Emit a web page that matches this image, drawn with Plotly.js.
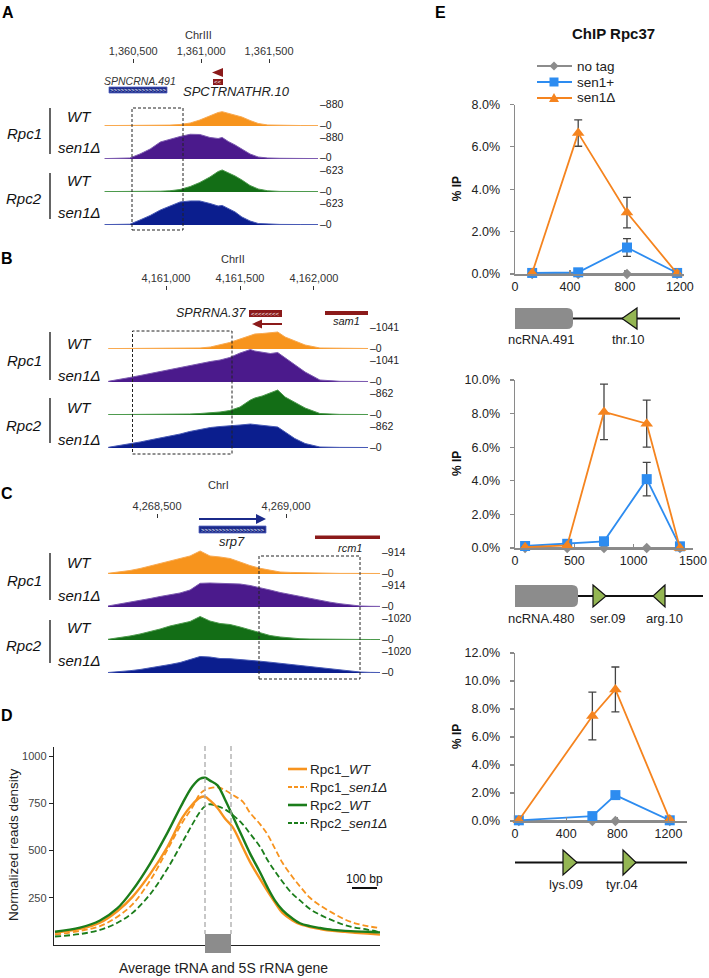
<!DOCTYPE html>
<html><head><meta charset="utf-8">
<script src="https://cdn.plot.ly/plotly-3.0.1.min.js"></script>
<style>html,body{margin:0;padding:0;background:#fff}#chart{width:709px;height:978px}</style>
</head><body><div id="chart"></div>
<script>
// ================= DATA =================
// Panel A (ChrIII)
const ticksA = [1360500, 1361000, 1361500];
const scalesA = [880, 880, 623, 623];
const posA = [1360290,1360400,1360475,1360550,1360625,1360700,1360770,1360845,1360920,1360990,1361065,1361125,1361155,1361200,1361250,1361300,1361360,1361420,1361490,1361580,1361730,1361860];
const rpc1WT_A  = [11,11,11,13,16,19,24,40,80,160,280,360,382,334,280,240,147,67,27,16,13,11];
const rpc1Sen_A = [11,16,27,134,267,454,534,600,660,654,574,547,574,467,374,267,134,53,27,19,13,11];
const rpc2WT_A  = [8,8,8,9,11,15,23,47,104,180,284,387,416,369,302,227,123,57,23,11,9,8];
const rpc2Sen_A = [8,9,15,95,180,284,359,435,454,454,406,359,369,312,246,151,76,28,15,11,9,8];

// Panel B (ChrII)
const ticksB = [4161000, 4161500, 4162000];
const scalesB = [1041, 1041, 862, 862];
const posB = [4160610,4160690,4160755,4160825,4160890,4160960,4161025,4161095,4161160,4161230,4161300,4161365,4161430,4161500,4161570,4161600,4161650,4161705,4161755,4161805,4161870,4161940,4162040,4162175,4162365];
const rpc1WT_B  = [13,13,13,13,16,16,19,22,25,32,63,126,205,315,441,473,488,520,536,378,252,126,32,19,16];
const rpc1Sen_B = [22,79,142,205,268,331,394,457,520,598,646,693,772,914,1024,977,929,898,929,756,536,315,63,22,16];
const rpc2WT_B  = [10,10,10,10,13,13,16,21,26,39,52,78,117,209,392,444,496,574,653,470,326,183,39,16,13];
const rpc2Sen_B = [18,65,104,157,209,261,313,365,431,488,535,561,574,600,626,613,600,587,548,418,248,117,26,16,13];

// Panel C (ChrI)
const ticksC = [4268500, 4269000];
const scalesC = [914, 914, 1020, 1020];
const posC = [4268310,4268357,4268395,4268434,4268473,4268512,4268550,4268589,4268628,4268667,4268705,4268744,4268783,4268822,4268860,4268899,4268938,4268977,4269016,4269054,4269093,4269132,4269171,4269209,4269248,4269287,4269326,4269364];
const rpc1WT_C  = [19,55,97,152,222,291,360,416,499,637,499,471,429,332,235,158,97,55,44,36,28,22,19,17,17,14,14,14];
const rpc1Sen_C = [28,83,130,180,235,291,346,388,471,656,665,659,656,637,596,540,471,402,346,285,230,180,133,91,55,28,19,17];
const rpc2WT_C  = [22,68,124,185,256,340,433,494,572,726,587,510,479,402,309,216,139,93,62,40,31,25,22,19,19,15,15,15];
const rpc2Sen_C = [15,40,71,108,155,201,263,324,417,510,494,448,442,423,392,365,334,300,269,238,207,176,145,108,62,31,19,15];

// Panel D (metagene, bp relative to gene start)
const ticksD = [250, 500, 750, 1000];
const posD = [-600,-500,-420,-350,-290,-220,-150,-90,-50,-20,0,20,50,80,110,150,180,220,250,280,310,350,380,420,460,510,560,600,650,700];
const rpc1WT_D  = [65,85,118,180,255,375,520,675,745,780,785,765,725,670,625,520,440,350,285,225,170,130,110,95,85,75,70,65,60,55];
const rpc1Sen_D = [55,75,100,150,215,340,505,650,730,800,820,830,835,820,795,760,700,640,585,510,435,360,310,250,210,170,135,115,100,90];
const rpc2WT_D  = [70,92,130,195,290,430,595,750,840,880,885,870,845,770,685,570,485,385,305,235,185,140,115,100,90,80,75,72,70,67];
const rpc2Sen_D = [45,58,80,118,170,268,405,545,640,705,735,745,735,718,690,640,590,520,450,390,335,270,236,190,160,130,105,92,82,67];
const namesD = ['Rpc1_<i>WT</i>', 'Rpc1_<i>sen1Δ</i>', 'Rpc2_<i>WT</i>', 'Rpc2_<i>sen1Δ</i>'];

// Panel E (ChIP Rpc37, % IP)
const namesE = ['no tag', 'sen1+', 'sen1Δ'];
const xE1 = [125, 460, 815, 1180];
const noTag1 = [0, 0, 0, 0];
const sen1p1 = [0.05, 0.08, 1.25, 0.05];
const sen1pErr1 = [0, 0, 0.42, 0];
const sen1d1 = [0.05, 6.65, 2.9, 0.02];
const sen1dErr1 = [0, 0.62, 0.72, 0];
const ticksE1x = [0, 400, 800, 1200];
const ticksE1y = [0, 2, 4, 6, 8];

const xE2 = [85, 440, 750, 1110, 1390];
const noTag2 = [0, 0, 0, 0, 0];
const sen1p2 = [0.12, 0.25, 0.4, 4.1, 0.1];
const sen1pErr2 = [0, 0, 0, 1.0, 0];
const sen1d2 = [0.05, 0.15, 8.1, 7.4, 0.0];
const sen1dErr2 = [0, 0, 1.65, 1.4, 0];
const ticksE2x = [0, 500, 1000, 1500];
const ticksE2y = [0, 2, 4, 6, 8, 10];

const xE3 = [30, 605, 785, 1210];
const noTag3 = [0, 0, 0, 0];
const sen1p3 = [0.05, 0.35, 1.85, 0.05];
const sen1pErr3 = [0, 0, 0.25, 0];
const sen1d3 = [0.05, 7.5, 9.4, 0.1];
const sen1dErr3 = [0, 1.7, 1.6, 0];
const ticksE3x = [0, 400, 800, 1200];
const ticksE3y = [0, 2, 4, 6, 8, 10, 12];

// ================= HELPERS =================
const W = 709, H = 978;
const FONT = 'Arial, "Liberation Sans", Helvetica, sans-serif';
const fx = x => x / W, fy = y => 1 - y / H;
const ax = n => (n === 1 ? '' : String(n));
const data = [], shapes = [], annotations = [];

function T(text, x, y, o = {}) {
  const a = {xref:'paper', yref:'paper', x:fx(x), y:fy(y), text:text, showarrow:false,
    xanchor:o.xa || 'center', yanchor:'middle', borderpad:0,
    font:{family:FONT, size:o.size || 11, color:o.color || '#222'}};
  if (o.angle !== undefined) a.textangle = o.angle;
  annotations.push(a);
}
function R(x0, y0, x1, y1, fill, line) {
  shapes.push({type:'rect', xref:'paper', yref:'paper', x0:fx(x0), x1:fx(x1), y0:fy(y1), y1:fy(y0),
    fillcolor:fill || 'rgba(0,0,0,0)', line: line || {width:0}, layer:'above'});
}
function L(x0, y0, x1, y1, color, width, dash) {
  shapes.push({type:'line', xref:'paper', yref:'paper', x0:fx(x0), x1:fx(x1), y0:fy(y0), y1:fy(y1),
    line:{color:color, width:width, dash:dash || 'solid'}, layer:'above'});
}
function P(cmds, fill, line) {
  let s = '';
  cmds.forEach(c => {
    if (c[0] === 'Z') { s += 'Z'; return; }
    s += c[0];
    const pts = [];
    for (let i = 1; i < c.length; i += 2) pts.push(fx(c[i]) + ',' + fy(c[i + 1]));
    s += pts.join(' ') + ' ';
  });
  shapes.push({type:'path', xref:'paper', yref:'paper', path:s, fillcolor:fill, line: line || {width:0}, layer:'above'});
}

// ================= TRACK PANELS A, B, C =================
const trackFill = ['#F7941D', '#4B1A8C', '#136E16', '#0B1E8E'];
const trackLine = ['#F9A94F', '#7C5AB0', '#4C9A4C', '#4759B5'];
const panels = [
  {pos:posA, series:[rpc1WT_A, rpc1Sen_A, rpc2WT_A, rpc2Sen_A], scales:scalesA, ticks:ticksA,
   xr:[104, 318], range:[1360285, 1361860], base:[126, 159, 192, 225], tickY:63, labX:319},
  {pos:posB, series:[rpc1WT_B, rpc1Sen_B, rpc2WT_B, rpc2Sen_B], scales:scalesB, ticks:ticksB,
   xr:[108, 368], range:[4160608, 4162365], base:[349, 382, 415, 448], tickY:290, labX:369},
  {pos:posC, series:[rpc1WT_C, rpc1Sen_C, rpc2WT_C, rpc2Sen_C], scales:scalesC, ticks:ticksC,
   xr:[108, 380], range:[4268310, 4269364], base:[574, 607, 640, 673], tickY:518, labX:381}
];
const layout = {
  width:W, height:H, margin:{l:0, r:0, t:0, b:0}, paper_bgcolor:'#fff', plot_bgcolor:'rgba(0,0,0,0)',
  showlegend:false, hovermode:false, font:{family:FONT, color:'#222'}
};
panels.forEach((p, pi) => {
  const xn = pi + 1;
  layout['xaxis' + ax(xn)] = {domain:[fx(p.xr[0]), fx(p.xr[1])], range:p.range, anchor:'free',
    position:fy(p.tickY), side:'top', tickmode:'array', tickvals:p.ticks, tickformat:',d',
    ticks:'outside', ticklen:4, tickwidth:1, tickcolor:'#333', showline:false, showgrid:false,
    zeroline:false, tickfont:{family:FONT, size:11, color:'#333'}, fixedrange:true};
  p.series.forEach((vals, i) => {
    const yn = pi * 4 + i + 1;
    layout['yaxis' + ax(yn)] = {domain:[fy(p.base[i]), fy(p.base[i] - 33)], range:[0, p.scales[i]],
      anchor:'x' + ax(xn), visible:false, fixedrange:true};
    data.push({type:'scatter', mode:'lines', x:p.pos, y:vals, xaxis:'x' + ax(xn), yaxis:'y' + ax(yn),
      fill:'tozeroy', fillcolor:trackFill[i], line:{color:trackLine[i], width:1}, hoverinfo:'skip'});
    T('–' + p.scales[i], p.labX, p.base[i] - 22, {xa:'left', size:10.5});
    T('–0', p.labX, p.base[i] - 1.5, {xa:'left', size:10.5});
  });
});

// track labels (WT y, Rpc y, sen y, line y0, line y1) per group
const labelGroups = [
  ['Rpc1', 117, 133, 148, 108, 154], ['Rpc2', 181, 199, 213, 173, 219],
  ['Rpc1', 343, 360, 375, 332, 380], ['Rpc2', 407, 425, 440, 398, 443],
  ['Rpc1', 562, 580, 595, 553, 600], ['Rpc2', 627, 645, 660, 620, 663]
];
labelGroups.forEach(g => {
  T('<i>' + g[0] + '</i>', 24, g[2], {size:15, color:'#111'});
  T('<i>WT</i>', 79, g[1], {size:15, color:'#111'});
  T('<i>sen1Δ</i>', 79, g[3], {size:15, color:'#111'});
  L(50, g[4], 50, g[5], '#111', 1.3);
});

// panel letters
T('<b>A</b>', 8, 12, {size:16, color:'#000'});
T('<b>B</b>', 7, 259, {size:16, color:'#000'});
T('<b>C</b>', 7, 493, {size:16, color:'#000'});
T('<b>D</b>', 7, 715, {size:16, color:'#000'});
T('<b>E</b>', 440, 13, {size:16, color:'#000'});

// Panel A gene features
const RED = '#8B1A1A', NAVY = '#1B2A8A';
T('ChrIII', 198, 35, {size:11, color:'#333'});
P([['M', 223, 68], ['L', 212, 72.5], ['L', 223, 77], ['Z']], RED);
R(213, 79, 223, 85, RED);
T('<<', 218, 82, {size:6, color:'#fff'});
R(109, 87, 167, 93, NAVY, {color:'#5565c0', width:0.8});
T('>>>>>>>>>>>>>>>>', 138, 90, {size:6, color:'#fff'});
T('<i>SPNCRNA.491</i>', 140, 81, {size:10.5, color:'#333'});
T('<i>SPCTRNATHR.10</i>', 236, 92, {size:13, color:'#222'});
R(132, 108, 183, 230, null, {color:'#222', width:1, dash:'3px,2px'});

// Panel B gene features
T('ChrII', 233, 259, {size:11, color:'#333'});
T('<i>SPRRNA.37</i>', 248, 313, {xa:'right', size:12.5, color:'#222'});
R(249, 310, 282, 317, RED);
T('<<<<<<<<', 265.5, 313.5, {size:6, color:'#fff'});
L(261, 324, 282, 324, RED, 2);
P([['M', 262, 319.5], ['L', 252, 324], ['L', 262, 328.5], ['Z']], RED);
R(325, 311, 368, 315, RED);
T('<i>sam1</i>', 346, 321, {size:11, color:'#222'});
R(132.5, 331, 232, 454, null, {color:'#222', width:1, dash:'3px,2px'});

// Panel C gene features
T('ChrI', 218, 485, {size:11, color:'#333'});
L(199, 519, 257, 519, NAVY, 2);
P([['M', 256, 514], ['L', 266, 519], ['L', 256, 524], ['Z']], NAVY);
R(199, 526, 266, 533, NAVY, {color:'#5565c0', width:0.8});
T('>>>>>>>>>>>>>>>>>>', 232.5, 529.5, {size:6, color:'#fff'});
T('<i>srp7</i>', 232, 541, {size:13, color:'#222'});
R(315, 535.5, 380, 539, RED);
T('<i>rcm1</i>', 350, 548, {size:11, color:'#222'});
R(259, 556, 360, 679, null, {color:'#222', width:1, dash:'3px,2px'});

// ================= PANEL D =================
layout.xaxis4 = {domain:[fx(54), fx(380)], range:[-604, 700], anchor:'y13', showline:true,
  linecolor:'#222', linewidth:1.2, ticks:'', showticklabels:false, showgrid:false, zeroline:false, fixedrange:true};
layout.yaxis13 = {domain:[fy(945), fy(747)], range:[0, 1048], anchor:'x4', showline:true,
  linecolor:'#222', linewidth:1.2, ticks:'outside', ticklen:4, tickcolor:'#222', tickmode:'array',
  tickvals:ticksD, tickfont:{family:FONT, size:11, color:'#444'}, showgrid:false, zeroline:false, fixedrange:true};
const colD = ['#F7931E', '#F7931E', '#1B7D1B', '#1B7D1B'];
const dashD = ['solid', '6px,3px', 'solid', '6px,3px'];
const widthD = [2.4, 1.8, 2.4, 1.8];
[rpc1Sen_D, rpc2Sen_D, rpc1WT_D, rpc2WT_D].forEach((vals, k) => {
  const i = [1, 3, 0, 2][k];
  data.push({type:'scatter', mode:'lines', x:posD, y:vals, xaxis:'x4', yaxis:'y13', name:namesD[i],
    line:{color:colD[i], width:widthD[i], dash:dashD[i], shape:'spline', smoothing:1}, hoverinfo:'skip'});
});
L(205, 746, 205, 934, '#aaaaaa', 1.3, '5px,3px');
L(231, 746, 231, 934, '#aaaaaa', 1.3, '5px,3px');
R(205, 934, 231, 953, '#8c8c8c');
[769, 787, 805, 823].forEach((y, i) => {
  L(288, y, 307, y, colD[i], i % 2 ? 2 : 2.6, i % 2 ? '4px,2px' : 'solid');
  T(namesD[i], 309, y, {xa:'left', size:13.5, color:'#222'});
});
T('100 bp', 364, 879, {size:12, color:'#111'});
L(352, 888, 377, 888, '#111', 2);
T('Normalized reads density', 13, 845, {size:13.5, color:'#222', angle:-90});
T('Average tRNA and 5S rRNA gene', 223, 968, {size:14, color:'#222'});

// ================= PANEL E =================
const ORANGE = '#F5841F', BLUE = '#2D8CF0', GRAY = '#8C8C8C';
const charts = [
  {x:xE1, g:noTag1, p:sen1p1, pe:sen1pErr1, d:sen1d1, de:sen1dErr1, xn:5, yn:14,
   xd:[515, 684], xr:[0, 1230], yd:[274, 104.5], yr:[0, 8], tx:ticksE1x, ty:ticksE1y},
  {x:xE2, g:noTag2, p:sen1p2, pe:sen1pErr2, d:sen1d2, de:sen1dErr2, xn:6, yn:15,
   xd:[515, 693], xr:[0, 1500], yd:[548, 380], yr:[0, 10], tx:ticksE2x, ty:ticksE2y},
  {x:xE3, g:noTag3, p:sen1p3, pe:sen1pErr3, d:sen1d3, de:sen1dErr3, xn:7, yn:16,
   xd:[515, 687], xr:[0, 1345], yd:[821, 653], yr:[0, 12], tx:ticksE3x, ty:ticksE3y}
];
charts.forEach(c => {
  const xa = 'x' + c.xn, ya = 'y' + c.yn;
  layout['xaxis' + c.xn] = {domain:[fx(c.xd[0]), fx(c.xd[1])], range:c.xr, anchor:ya, showline:true,
    linecolor:'#8a8a8a', linewidth:1.5, ticks:'inside', ticklen:4, tickcolor:'#8a8a8a', tickwidth:1.2,
    tickmode:'array', tickvals:c.tx, tickfont:{family:FONT, size:12.5, color:'#222'},
    showgrid:false, zeroline:false, fixedrange:true};
  layout['yaxis' + c.yn] = {domain:[fy(c.yd[0]), fy(c.yd[1])], range:c.yr, anchor:xa, showline:true,
    linecolor:'#8a8a8a', linewidth:1.5, ticks:'outside', ticklen:4, tickcolor:'#8a8a8a', tickwidth:1.2,
    tickmode:'array', tickvals:c.ty, ticktext:c.ty.map(v => v.toFixed(1) + '%'), ticklabelstandoff:7,
    tickfont:{family:FONT, size:12.5, color:'#222'}, showgrid:false, zeroline:false, fixedrange:true};
  data.push({type:'scatter', mode:'lines+markers', x:c.x, y:c.g, xaxis:xa, yaxis:ya, name:namesE[0],
    cliponaxis:false, line:{color:GRAY, width:1.8}, marker:{symbol:'diamond', size:8, color:GRAY}, hoverinfo:'skip'});
  data.push({type:'scatter', mode:'lines+markers', x:c.x, y:c.p, xaxis:xa, yaxis:ya, name:namesE[1],
    cliponaxis:false, line:{color:BLUE, width:1.8}, marker:{symbol:'square', size:10, color:BLUE},
    error_y:{type:'data', array:c.pe, color:'#444', thickness:1.3, width:4}, hoverinfo:'skip'});
  data.push({type:'scatter', mode:'lines+markers', x:c.x, y:c.d, xaxis:xa, yaxis:ya, name:namesE[2],
    cliponaxis:false, line:{color:ORANGE, width:1.8}, marker:{symbol:'triangle-up', size:11, color:ORANGE},
    error_y:{type:'data', array:c.de, color:'#444', thickness:1.3, width:4}, hoverinfo:'skip'});
  T('<b>% IP</b>', 457, (c.yd[0] + c.yd[1]) / 2, {size:12, color:'#111', angle:-90});
});
T('<b>ChIP Rpc37</b>', 613, 33, {size:15, color:'#111'});
[66, 82, 98].forEach((y, i) => {
  const col = [GRAY, BLUE, ORANGE][i];
  L(537, y, 572, y, col, 1.8);
  if (i === 0) P([['M', 554, y - 4.5], ['L', 558.5, y], ['L', 554, y + 4.5], ['L', 549.5, y], ['Z']], col);
  if (i === 1) R(549.5, y - 4.5, 558.5, y + 4.5, col);
  if (i === 2) P([['M', 554, y - 5], ['L', 559, y + 4], ['L', 549, y + 4], ['Z']], col);
  T(namesE[i], 576, y, {xa:'left', size:13.5, color:'#222'});
});
const TRI = '#94B653', TRIL = {color:'#111', width:1.2};
L(573, 318.5, 680, 318.5, '#111', 2);
P([['M', 515, 308], ['L', 567, 308], ['Q', 573, 308, 573, 314], ['L', 573, 323], ['Q', 573, 329, 567, 329], ['L', 515, 329], ['Z']], '#8c8c8c');
P([['M', 637, 308], ['L', 622, 318.5], ['L', 637, 329], ['Z']], TRI, TRIL);
T('ncRNA.491', 541, 340, {size:13, color:'#222'});
T('thr.10', 628, 340, {size:13, color:'#222'});
L(578, 596, 703, 596, '#111', 2);
P([['M', 515, 585], ['L', 572, 585], ['Q', 578, 585, 578, 591], ['L', 578, 601], ['Q', 578, 607, 572, 607], ['L', 515, 607], ['Z']], '#8c8c8c');
P([['M', 593, 585], ['L', 606, 596], ['L', 593, 607], ['Z']], TRI, TRIL);
P([['M', 665, 585], ['L', 653, 596], ['L', 665, 607], ['Z']], TRI, TRIL);
T('ncRNA.480', 541, 618, {size:13, color:'#222'});
T('ser.09', 607, 618, {size:13, color:'#222'});
T('arg.10', 664, 618, {size:13, color:'#222'});
L(515, 862.5, 687, 862.5, '#111', 2);
P([['M', 563, 850], ['L', 577, 862.5], ['L', 563, 875], ['Z']], TRI, TRIL);
P([['M', 623, 850], ['L', 636, 862.5], ['L', 623, 875], ['Z']], TRI, TRIL);
T('lys.09', 566, 884, {size:13, color:'#222'});
T('tyr.04', 622, 884, {size:13, color:'#222'});

layout.shapes = shapes;
layout.annotations = annotations;
Plotly.newPlot('chart', data, layout, {staticPlot:true, displayModeBar:false});
</script>
</body></html>
